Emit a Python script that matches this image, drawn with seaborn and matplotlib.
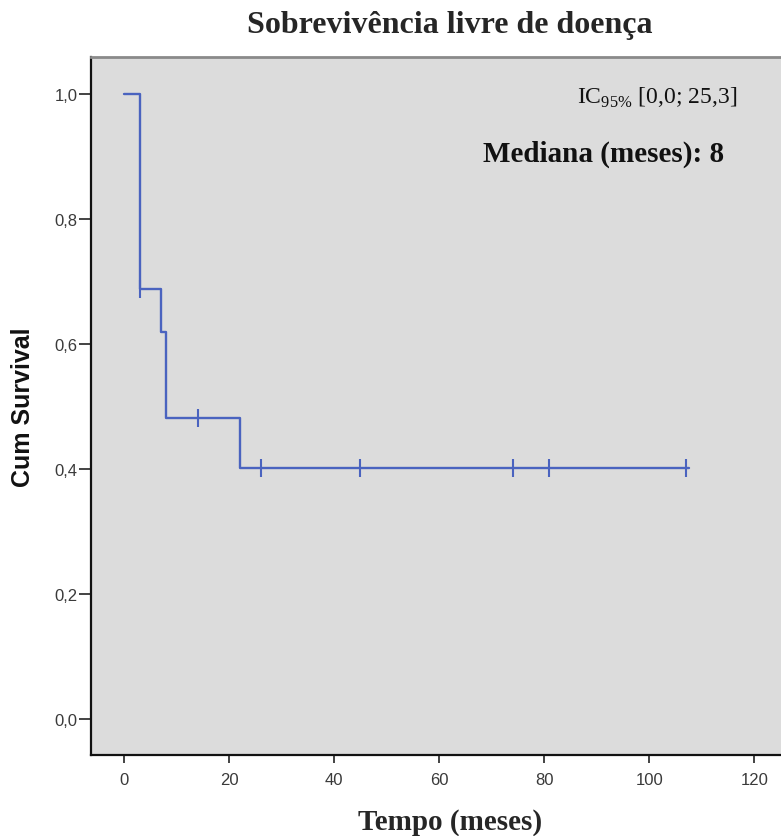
import matplotlib
matplotlib.use("Agg")
import matplotlib.pyplot as plt
import seaborn as sns
import pandas as pd

# ---- data ----
step_times = [0, 3, 7, 8, 22, 107.5]
step_surv = [1.0, 0.6875, 0.619, 0.481, 0.401, 0.401]
censor_times = [3, 14, 26, 45, 74, 81, 107]
censor_surv = [0.6875, 0.481, 0.401, 0.401, 0.401, 0.401, 0.401]
x_ticks = [0, 20, 40, 60, 80, 100, 120]
y_ticks = [0.0, 0.2, 0.4, 0.6, 0.8, 1.0]
y_tick_labels = ["0,0", "0,2", "0,4", "0,6", "0,8", "1,0"]
title = "Sobrevivência livre de doença"
x_label = "Tempo (meses)"
y_label = "Cum Survival"
ci_text = r"IC$_{\mathrm{95\%}}$ [0,0; 25,3]"
median_text = "Mediana (meses): 8"

sns.set_theme(style="white")
plt.rcParams["font.family"] = ["Liberation Sans", "DejaVu Sans"]
plt.rcParams["mathtext.fontset"] = "custom"
plt.rcParams["mathtext.rm"] = "Liberation Serif"

line_color = "#4a63bf"
bg = "#dcdcdc"
H = 837.0
W = 781.0

fig = plt.figure(figsize=(7.81, 8.37), dpi=100)
ax = fig.add_axes([91 / W, 1 - 756 / H, 1 - 91 / W, (756 - 58) / H])
ax.set_facecolor(bg)

curve = pd.DataFrame({"t": step_times, "s": step_surv})
cens = pd.DataFrame({"t": censor_times, "s": censor_surv})

sns.lineplot(data=curve, x="t", y="s", ax=ax, drawstyle="steps-post",
             estimator=None, color=line_color, linewidth=1.7)
sns.scatterplot(data=cens, x="t", y="s", ax=ax, marker="|", s=160,
                linewidth=1.5, color=line_color, zorder=3)

ax.set_xlim(-6.3, 125.1)
ax.set_ylim(-0.058, 1.059)
ax.set_xticks(x_ticks)
ax.set_xticklabels([str(v) for v in x_ticks])
ax.set_yticks(y_ticks)
ax.set_yticklabels(y_tick_labels)
ax.tick_params(axis="both", which="both", direction="out", width=1.2,
               color="#222222", labelcolor="#3a3a3a", labelsize=12,
               bottom=True, left=True)
ax.tick_params(axis="x", length=6, pad=6)
ax.tick_params(axis="y", length=8.5, pad=1)

for side in ["left", "bottom"]:
    ax.spines[side].set_color("#111111")
    ax.spines[side].set_linewidth(1.6)
ax.spines["top"].set_color("#8a8a8a")
ax.spines["top"].set_linewidth(2)
ax.spines["right"].set_visible(False)

ax.set_xlabel("")
ax.set_ylabel("")

fig.text(23 / W, 1 - 407 / H, y_label, ha="center", va="center", rotation=90,
         fontsize=18, fontweight="bold", color="#111111")
fig.text(449.5 / W, 1 - 33 / H, title, ha="center", va="baseline",
         fontsize=23, fontweight="bold", family="Liberation Serif")
fig.text(450 / W, 1 - 830 / H, x_label, ha="center", va="baseline",
         fontsize=21, fontweight="bold", family="Liberation Serif")
fig.text(737 / W, 1 - 104 / H, ci_text, ha="right", va="baseline",
         fontsize=17, family="Liberation Serif", color="#111111")
fig.text(724 / W, 1 - 162 / H, median_text, ha="right", va="baseline",
         fontsize=21, fontweight="bold", family="Liberation Serif", color="#111111")

fig.savefig("out.png", dpi=100)
